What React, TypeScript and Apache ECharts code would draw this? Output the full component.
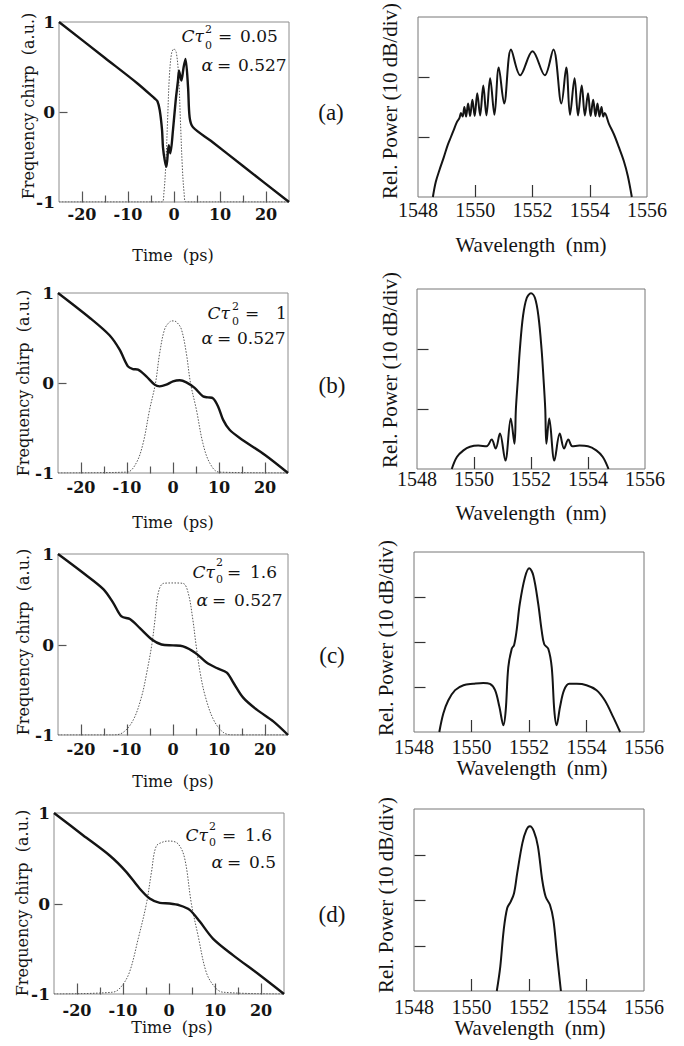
import React, { useEffect, useRef } from "react";
import * as echarts from "echarts";

// ---------------- DATA ----------------
// Panel (a)  C*tau0^2 = 0.05, alpha = 0.527
const chirpA_t = [-25, -15, -8, -4.2, -3.6, -3.1, -2.6, -2.4, -2.0, -1.65, -1.15, -0.8, -0.22, 0.37, 0.87, 1.09, 1.6, 2.1, 2.5, 3.05, 3.4, 4.13, 8, 15, 25];
const chirpA_v = [1, 0.6, 0.32, 0.15, 0.12, 0.02, -0.2, -0.39, -0.54, -0.61, -0.37, -0.46, -0.2, 0.13, 0.35, 0.46, 0.35, 0.5, 0.59, 0.28, -0.06, -0.17, -0.32, -0.6, -1];
const pulseA_t = [-25, -2.6, -2.2, -1.8, -1.4, -1.0, -0.5, 0, 0.5, 1.0, 1.4, 1.8, 2.2, 2.6, 25];
const pulseA_v = [-1, -1, -0.9, -0.6, -0.1, 0.4, 0.66, 0.7, 0.66, 0.4, -0.1, -0.6, -0.9, -1, -1];
const specA_wl = [1548.52, 1548.62, 1548.75, 1548.9, 1549.04, 1549.15, 1549.25, 1549.35, 1549.45, 1549.5, 1549.56, 1549.62, 1549.68, 1549.75, 1549.82, 1549.9, 1549.98, 1550.07, 1550.17, 1550.28, 1550.39, 1550.52, 1550.67, 1550.82, 1551.01, 1551.25, 1551.57, 1552.0, 1552.43, 1552.73, 1553.01, 1553.18, 1553.31, 1553.47, 1553.59, 1553.72, 1553.83, 1553.94, 1554.03, 1554.12, 1554.2, 1554.27, 1554.34, 1554.41, 1554.47, 1554.52, 1554.67, 1554.84, 1555.01, 1555.19, 1555.33, 1555.47];
const specA_db = [-30, -27.5, -25.5, -23.4, -21.3, -20.0, -18.8, -17.6, -16.8, -16.0, -16.6, -15.0, -16.6, -14.4, -16.5, -13.8, -16.5, -12.7, -16.4, -11.4, -16.4, -10.2, -16.3, -8.4, -14.4, -5.4, -9.7, -5.7, -9.7, -5.4, -14.4, -8.4, -16.3, -10.2, -16.4, -11.4, -16.4, -12.7, -16.5, -13.8, -16.5, -14.4, -16.6, -15.0, -16.6, -16.0, -17.8, -19.5, -21.6, -24.0, -26.5, -30];

// Panel (b)  C*tau0^2 = 1, alpha = 0.527
const chirpB_t = [-25, -18, -13.8, -11.6, -9.8, -8.7, -7.6, -5.8, -4.0, -2.9, -1.45, 0, 1.45, 2.9, 4.7, 6.5, 7.6, 8.7, 9.8, 10.9, 12.3, 14.5, 20, 25];
const chirpB_v = [1, 0.72, 0.53, 0.37, 0.185, 0.155, 0.148, 0.074, -0.018, -0.037, -0.018, 0.018, 0.03, 0.007, -0.055, -0.148, -0.16, -0.17, -0.26, -0.41, -0.52, -0.61, -0.8, -1];
const pulseB_t = [-25, -10, -8, -6.5, -5.1, -3.8, -2.9, -1.8, -0.7, 0, 0.7, 1.8, 2.9, 3.8, 5.1, 6.5, 8, 10, 25];
const pulseB_v = [-1, -0.99, -0.89, -0.67, -0.3, 0, 0.33, 0.6, 0.68, 0.69, 0.68, 0.6, 0.33, 0, -0.3, -0.67, -0.89, -0.99, -1];
const specB_wl = [1549.22, 1549.4, 1549.63, 1549.86, 1550.15, 1550.44, 1550.62, 1550.76, 1550.91, 1551.1, 1551.29, 1551.42, 1551.47, 1551.54, 1551.61, 1551.72, 1551.85, 1552.0, 1552.14, 1552.26, 1552.37, 1552.44, 1552.5, 1552.54, 1552.64, 1552.82, 1553.01, 1553.16, 1553.31, 1553.45, 1553.7, 1554.0, 1554.29, 1554.52, 1554.72];
const specB_db = [-30, -28, -26.9, -26.3, -26.1, -26.2, -25.1, -26.6, -24.1, -28.6, -21.6, -25.8, -20, -15, -10, -4.5, -1.5, -0.7, -1.5, -4.5, -10, -15, -20, -25.8, -21.6, -28.6, -24.1, -26.6, -25.1, -26.2, -26.1, -26.2, -26.9, -28, -30];

// Panel (c)  C*tau0^2 = 1.6, alpha = 0.527
const chirpC_t = [-25, -19.5, -15.1, -13.0, -11.2, -9.3, -7.2, -4.6, -2.5, 0, 2.2, 4.8, 7.3, 9.5, 11.7, 13.1, 15.3, 18.2, 21.8, 25];
const chirpC_v = [1, 0.79, 0.61, 0.46, 0.31, 0.28, 0.18, 0.055, 0, -0.01, -0.02, -0.09, -0.2, -0.26, -0.31, -0.42, -0.59, -0.72, -0.85, -1];
const pulseC_t = [-25, -13, -10.8, -8.6, -6.8, -5.7, -4.6, -3.9, -3.2, -2.1, 0, 2.2, 3.3, 4.3, 5.0, 5.9, 7.0, 8.8, 10.9, 13, 25];
const pulseC_v = [-1, -1, -0.97, -0.83, -0.57, -0.31, 0, 0.28, 0.57, 0.675, 0.68, 0.675, 0.57, 0.28, 0, -0.31, -0.57, -0.83, -0.97, -1, -1];
const specC_wl = [1548.88, 1549.02, 1549.19, 1549.43, 1549.72, 1550.06, 1550.41, 1550.64, 1550.82, 1550.97, 1551.11, 1551.19, 1551.28, 1551.4, 1551.48, 1551.57, 1551.68, 1551.86, 1552.01, 1552.15, 1552.32, 1552.44, 1552.53, 1552.67, 1552.79, 1552.88, 1552.96, 1553.08, 1553.22, 1553.4, 1553.66, 1554.0, 1554.35, 1554.64, 1554.93, 1555.17];
const specC_db = [-40, -35.9, -33.0, -30.7, -29.6, -29.3, -29.1, -29.3, -30.7, -34.4, -38.5, -35.2, -25.6, -21.5, -20.7, -17.4, -11.5, -5.6, -3.6, -5.2, -11.5, -17.4, -20.5, -21.5, -25.6, -35.2, -38.5, -34.4, -30.7, -29.3, -29.3, -29.6, -30.7, -33.0, -36.7, -40];

// Panel (d)  C*tau0^2 = 1.6, alpha = 0.5
const chirpD_t = [-25, -18.7, -12.9, -9.3, -6.4, -4.2, -2.0, 0.14, 2.3, 4.5, 6.7, 9.6, 13.9, 19.7, 25];
const chirpD_v = [1, 0.755, 0.53, 0.35, 0.166, 0.055, 0.007, 0, -0.02, -0.07, -0.2, -0.39, -0.57, -0.79, -1];
const pulseD_t = [-25, -12.2, -10.4, -8.6, -6.7, -4.9, -3.8, -2.8, -1.3, 0.14, 1.96, 3.4, 4.86, 6.3, 8.1, 9.9, 11.7, 25];
const pulseD_v = [-1, -0.98, -0.92, -0.76, -0.39, 0, 0.35, 0.63, 0.68, 0.69, 0.66, 0.5, 0, -0.35, -0.76, -0.92, -0.98, -1];
const specD_wl = [1550.88, 1551.0, 1551.12, 1551.24, 1551.36, 1551.48, 1551.59, 1551.77, 1551.91, 1552.03, 1552.17, 1552.31, 1552.46, 1552.58, 1552.73, 1552.85, 1552.97, 1553.11];
const specD_db = [-40, -34.7, -26.6, -21.8, -20.4, -18.5, -14.1, -7.5, -4.6, -3.8, -4.9, -8.2, -15.6, -19.3, -21.1, -24.4, -31.8, -40];

// Axis ranges, ticks, labels
const timeRange = [-25, 25];
const chirpRange = [-1, 1];
const wlRange = [1548, 1556];
const dbMins = [-30, -30, -40, -40];
const timeTicks = [-20, -15, -10, -5, 0, 5, 10, 15, 20];
const chirpTicks = [0];
const wlTicks = [1550, 1552, 1554];
const dbTicks = [[-20, -10], [-20, -10], [-30, -20, -10], [-30, -20, -10]];
const panelLetters = ["(a)", "(b)", "(c)", "(d)"];
const ctauValues = ["0.05", "1", "1.6", "1.6"];
const alphaValues = ["0.527", "0.527", "0.527", "0.5"];

// ---------------- LAYOUT (positions / styles) ----------------
const leftGrids = [
  { left: 59, top: 22, width: 230, height: 180, xMargin: 4 },
  { left: 58, top: 293, width: 230, height: 180, xMargin: 6 },
  { left: 58, top: 554, width: 230, height: 181, xMargin: 6 },
  { left: 54, top: 813, width: 230, height: 181, xMargin: 8 },
];
const rightGrids = [
  { left: 418, top: 17, width: 229, height: 180, xMargin: 5 },
  { left: 417, top: 289, width: 228, height: 180, xMargin: 2 },
  { left: 414, top: 552, width: 230, height: 180, xMargin: 7 },
  { left: 414, top: 809, width: 230, height: 182, xMargin: 8 },
];
const timeTitle = [{ x: 173, y: 255 }, { x: 173, y: 522 }, { x: 173, y: 781 }, { x: 172, y: 1027 }];
const chirpTitle = [{ x: 28, y: 106 }, { x: 23, y: 383 }, { x: 23, y: 642 }, { x: 22, y: 903 }];
const wlTitle = [{ x: 531, y: 245 }, { x: 531, y: 513 }, { x: 532, y: 768 }, { x: 530, y: 1028 }];
const powTitle = [{ x: 390, y: 101 }, { x: 390, y: 370 }, { x: 386, y: 638 }, { x: 386, y: 895 }];
const letterPos = [{ x: 331, y: 112 }, { x: 332, y: 385 }, { x: 332, y: 655 }, { x: 332, y: 914 }];
const annot = [
  { cR: 204, sx: 205, supY: 29, subY: 45, e1: 218, v1: 240, y1: 36, aR: 213, e2: 217, v2: 238, y2: 65 },
  { cR: 230, sx: 232, supY: 306, subY: 321, e1: 245, v1: 276, y1: 313, aR: 213, e2: 217, v2: 237, y2: 338 },
  { cR: 215, sx: 216, supY: 562, subY: 579, e1: 227, v1: 250, y1: 572, aR: 208, e2: 212, v2: 234, y2: 600 },
  { cR: 208, sx: 209, supY: 826, subY: 842, e1: 222, v1: 245, y1: 835, aR: 223, e2: 227, v2: 249, y2: 862 },
];
const RIGHT_X_TICK_PX = 12;

const CM = "DejaVu Serif";
const TIMES = "Liberation Serif";
const INK = "#141414";
const FRAME = "#8c8c8c";

const zip = (a: number[], b: number[]) => a.map((x, i) => [x, b[i]]);

function buildOption() {
  const chirps = [zip(chirpA_t, chirpA_v), zip(chirpB_t, chirpB_v), zip(chirpC_t, chirpC_v), zip(chirpD_t, chirpD_v)];
  const pulses = [zip(pulseA_t, pulseA_v), zip(pulseB_t, pulseB_v), zip(pulseC_t, pulseC_v), zip(pulseD_t, pulseD_v)];
  const specs = [zip(specA_wl, specA_db), zip(specB_wl, specB_db), zip(specC_wl, specC_db), zip(specD_wl, specD_db)];

  const grid: any[] = [];
  const xAxis: any[] = [];
  const yAxis: any[] = [];
  const series: any[] = [];
  const graphic: any[] = [];

  const txt = (text: string, x: number, y: number, font: string, align: string, extra: any = {}, lh?: number) => ({
    type: "text", silent: true, x, y, ...extra,
    style: { text, x: 0, y: 0, font, fill: INK, align, verticalAlign: "middle", textAlign: align, textVerticalAlign: "middle", ...(lh ? { lineHeight: lh } : {}) },
  });

  // inside tick marks drawn through the axes' own scales (custom series)
  const tickSeries = (data: number[][], dir: "x" | "y", color: string) => ({
    type: "custom", data, silent: true, clip: false, z: 5,
    renderItem: (_params: any, api: any) => {
      const pt = api.coord([api.value(0), api.value(1)]);
      const len = api.value(2);
      const px = Math.round(pt[0]) + 0.5;
      const py = Math.round(pt[1]) + 0.5;
      const shape = dir === "x"
        ? { x1: px, y1: py, x2: px, y2: py - len }
        : { x1: px, y1: py, x2: px + len, y2: py };
      return { type: "line", shape, style: { stroke: color, lineWidth: 1.2 } };
    },
  });

  const helperX = (gi: number) => ({ gridIndex: gi, type: "value", min: 0, max: 1, show: false });
  const helperY = (gi: number) => ({ gridIndex: gi, type: "value", min: 0, max: 1, show: false });

  const addPanel = (g: any, border: string, xCfg: any, yCfg: any, seriesList: any[]) => {
    const gi = grid.length;
    grid.push({ ...g, show: true, borderColor: border, borderWidth: 1, backgroundColor: "transparent" });
    const xMain = xAxis.length;
    const xHelp = xMain + 1;
    const yMain = yAxis.length;
    const yHelp = yMain + 1;
    xAxis.push({ gridIndex: gi, ...xCfg, axisTick: { show: false }, axisLine: { show: false, onZero: true, onZeroAxisIndex: yHelp } });
    xAxis.push(helperX(gi));
    yAxis.push({ gridIndex: gi, ...yCfg, axisTick: { show: false }, axisLine: { show: false, onZero: true, onZeroAxisIndex: xHelp } });
    yAxis.push(helperY(gi));
    seriesList.forEach((s) => series.push({ ...s, xAxisIndex: xMain, yAxisIndex: yMain }));
  };

  for (let p = 0; p < 4; p++) {
    const lg = leftGrids[p];
    const rg = rightGrids[p];

    addPanel(
      { left: lg.left, top: lg.top, width: lg.width, height: lg.height }, FRAME,
      {
        type: "value", min: timeRange[0], max: timeRange[1], interval: 5, splitLine: { show: false },
        axisLabel: { formatter: (v: number) => (v % 10 === 0 ? String(v) : ""), fontFamily: CM, fontWeight: "bold", fontSize: 16, color: INK, margin: lg.xMargin },
      },
      {
        type: "value", min: chirpRange[0], max: chirpRange[1], interval: 1, splitLine: { show: false },
        axisLabel: { fontFamily: CM, fontWeight: "bold", fontSize: 17, color: INK, margin: 4 },
      },
      [
        { type: "line", data: pulses[p], showSymbol: false, smooth: 0.35, silent: true, lineStyle: { color: "#555", width: 1, type: [1.5, 1.5] } },
        { type: "line", data: chirps[p], showSymbol: false, smooth: 0.3, silent: true, lineStyle: { color: INK, width: 2.4 } },
        tickSeries(timeTicks.map((v) => [v, chirpRange[0], v % 10 === 0 ? 11 : 7]), "x", "#555"),
        tickSeries(chirpTicks.map((v) => [timeRange[0], v, 8]), "y", "#555"),
      ],
    );

    // tick height in dB units so that it is RIGHT_X_TICK_PX tall on screen
    const dbPerPx = -dbMins[p] / rg.height;
    const tickTop = dbMins[p] + RIGHT_X_TICK_PX * dbPerPx;

    addPanel(
      { left: rg.left, top: rg.top, width: rg.width, height: rg.height }, "#777",
      {
        type: "value", min: wlRange[0], max: wlRange[1], interval: 2, splitLine: { show: false },
        axisLabel: { formatter: (v: number) => String(v), fontFamily: TIMES, fontSize: 20, lineHeight: 16, color: INK, margin: rg.xMargin },
      },
      {
        type: "value", min: dbMins[p], max: 0, interval: 10, splitLine: { show: false },
        axisLabel: { show: false },
      },
      [
        {
          type: "line", data: specs[p], showSymbol: false, smooth: 0.35, silent: true, lineStyle: { color: INK, width: 2 },
          markLine: {
            silent: true, symbol: ["none", "none"], label: { show: false }, animation: false,
            lineStyle: { color: "#333", width: 1.2, type: "solid" },
            emphasis: { disabled: true },
            data: wlTicks.map((v) => [{ coord: [v, dbMins[p]] }, { coord: [v, tickTop] }]),
          },
        },
        tickSeries(dbTicks[p].map((v) => [wlRange[0], v, 11]), "y", "#333"),
      ],
    );

    graphic.push(txt("Time  (ps)", timeTitle[p].x, timeTitle[p].y, `16px ${CM}`, "center"));
    graphic.push(txt("Frequency chirp  (a.u.)", chirpTitle[p].x, chirpTitle[p].y, `16px ${CM}`, "center", { rotation: Math.PI / 2 }));
    graphic.push(txt("Wavelength  (nm)", wlTitle[p].x, wlTitle[p].y, `21px ${TIMES}`, "center", {}, 16));
    graphic.push(txt("Rel. Power (10 dB/div)", powTitle[p].x, powTitle[p].y, `21px ${TIMES}`, "center", { rotation: Math.PI / 2 }));
    graphic.push(txt(panelLetters[p], letterPos[p].x, letterPos[p].y, `23px ${TIMES}`, "center"));

    const a = annot[p];
    graphic.push(txt("Cτ", a.cR, a.y1, `italic 17px ${CM}`, "right", {}, 16));
    graphic.push(txt("2", a.sx, a.supY, `11px ${CM}`, "left", {}, 10));
    graphic.push(txt("0", a.sx, a.subY, `11px ${CM}`, "left", {}, 10));
    graphic.push(txt("=", a.e1, a.y1, `17px ${CM}`, "left", {}, 16));
    graphic.push(txt(ctauValues[p], a.v1, a.y1, `17px ${CM}`, "left", {}, 16));
    graphic.push(txt("α", a.aR, a.y2, `italic 17px ${CM}`, "right", {}, 16));
    graphic.push(txt("=", a.e2, a.y2, `17px ${CM}`, "left", {}, 16));
    graphic.push(txt(alphaValues[p], a.v2, a.y2, `17px ${CM}`, "left", {}, 16));
  }

  return { animation: false, backgroundColor: "#ffffff", grid, xAxis, yAxis, series, graphic };
}

export default function App() {
  const ref = useRef<HTMLDivElement>(null);
  useEffect(() => {
    if (!ref.current) return;
    const chart = echarts.init(ref.current, undefined, { renderer: "svg" });
    chart.setOption(buildOption() as any);
    return () => chart.dispose();
  }, []);
  return <div ref={ref} style={{ position: "absolute", left: 0, top: 0, width: 684, height: 1046, background: "#fff" }} />;
}
